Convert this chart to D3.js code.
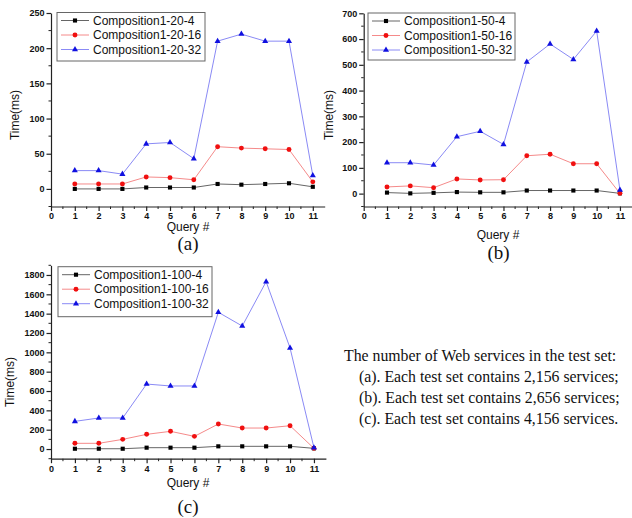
<!DOCTYPE html>
<meta charset="utf-8">
<script src="https://cdn.jsdelivr.net/npm/d3@7"></script>
<style>
body { margin: 0; background: #fff; }
svg text { fill: #111; }
</style>
<body>
<script>
// query numbers on x
var queries = [1, 2, 3, 4, 5, 6, 7, 8, 9, 10, 11];

// panel (a): 2,156 services
var a4  = [0, 0, 0, 2, 2, 2, 7, 6, 7, 8, 3];
var a16 = [7, 7, 7, 17, 16, 13, 60, 58, 57, 56, 10];
var a32 = [26, 26, 21, 64, 66, 43, 210, 220, 210, 210, 19];

// panel (b): 2,656 services
var b4  = [4, 1, 3, 6, 5, 5, 12, 12, 12, 12, 1];
var b16 = [26, 30, 23, 57, 53, 54, 147, 153, 116, 116, 1];
var b32 = [120, 120, 111, 221, 242, 191, 511, 581, 521, 631, 14];

// panel (c): 4,156 services
var c4  = [3, 3, 3, 14, 14, 14, 28, 28, 28, 28, 7];
var c16 = [59, 59, 100, 152, 183, 131, 259, 217, 217, 241, 7];
var c32 = [286, 321, 321, 672, 652, 652, 1414, 1272, 1731, 1045, 14];

var xTicks = [0, 1, 2, 3, 4, 5, 6, 7, 8, 9, 10, 11];
var aTicks = [0, 50, 100, 150, 200, 250];
var bTicks = [0, 100, 200, 300, 400, 500, 600, 700];
var cTicks = [0, 200, 400, 600, 800, 1000, 1200, 1400, 1600, 1800];

var noteLines = [
  "The number of Web services in the test set:",
  "(a). Each test set contains 2,156 services;",
  "(b). Each test set contains 2,656 services;",
  "(c). Each test set contains 4,156 services."
];

var svg = d3.select("body").append("svg")
    .attr("width", 632)
    .attr("height", 518)
    .style("font-family", "'Liberation Sans', Arial, sans-serif");

var styles = [
  {color: "#000", line: "#666", shape: d3.symbolSquare, size: 17},
  {color: "#f01010", line: "#f58a8a", shape: d3.symbolCircle, size: 19},
  {color: "#1010e0", line: "#8a8af5", shape: d3.symbolTriangle, size: 16}
];

function panel(cfg) {
  var x = d3.scaleLinear().domain([0, 11.5]).range(cfg.xr);
  var y = d3.scaleLinear().domain(cfg.yd).range(cfg.yr);
  var g = svg.append("g");

  // minor ticks
  var xMinor = d3.range(0.5, 11.5, 1);
  g.selectAll(".xm").data(xMinor).enter().append("line")
      .attr("x1", function(d) { return x(d); }).attr("x2", function(d) { return x(d); })
      .attr("y1", cfg.yr[0]).attr("y2", cfg.yr[0] + 2.5)
      .attr("stroke", "#222");
  var yMinor = d3.range(cfg.yd[0], cfg.yd[1] + 1, cfg.minor)
      .filter(function(d) { return cfg.yt.indexOf(d) < 0; });
  g.selectAll(".ym").data(yMinor).enter().append("line")
      .attr("y1", function(d) { return y(d); }).attr("y2", function(d) { return y(d); })
      .attr("x1", cfg.xr[0]).attr("x2", cfg.xr[0] - 2.5)
      .attr("stroke", "#222");

  var xAxis = g.append("g")
      .attr("transform", "translate(0," + cfg.yr[0] + ")")
      .call(d3.axisBottom(x).tickValues(xTicks).tickSize(4.5).tickPadding(2).tickSizeOuter(0));
  var yAxis = g.append("g")
      .attr("transform", "translate(" + cfg.xr[0] + ",0)")
      .call(d3.axisLeft(y).tickValues(cfg.yt).tickFormat(d3.format("d")).tickSize(4.5).tickPadding(2).tickSizeOuter(0));
  [xAxis, yAxis].forEach(function(ax) {
    ax.selectAll("text").style("font-size", "9px").style("font-weight", "bold")
      .style("font-family", "'Liberation Sans', Arial, sans-serif").attr("fill", "#222");
    ax.selectAll("path, line").attr("stroke", "#222").attr("stroke-width", 1.2);
  });

  var series = [cfg.s4, cfg.s16, cfg.s32];
  var line = d3.line()
      .x(function(d, i) { return x(queries[i]); })
      .y(function(d) { return y(d); });

  series.forEach(function(s, k) {
    g.append("path").datum(s)
        .attr("d", line)
        .attr("fill", "none")
        .attr("stroke", styles[k].line)
        .attr("stroke-width", 1);
  });
  series.forEach(function(s, k) {
    g.selectAll(".m" + k).data(s).enter().append("path")
        .attr("d", d3.symbol().type(styles[k].shape).size(styles[k].size))
        .attr("transform", function(d, i) { return "translate(" + x(queries[i]) + "," + y(d) + ")"; })
        .attr("fill", styles[k].color);
  });

  // legend
  var L = cfg.legend;
  g.append("rect")
      .attr("x", L.x).attr("y", L.y).attr("width", L.w).attr("height", L.h)
      .attr("fill", "#fff").attr("stroke", "#666").attr("stroke-width", 1);
  cfg.names.forEach(function(n, k) {
    var ry = L.y + 8 + k * 14.5;
    g.append("line")
        .attr("x1", L.x + 4).attr("x2", L.x + 32).attr("y1", ry).attr("y2", ry)
        .attr("stroke", styles[k].line);
    g.append("path")
        .attr("d", d3.symbol().type(styles[k].shape).size(styles[k].size))
        .attr("transform", "translate(" + (L.x + 18) + "," + ry + ")")
        .attr("fill", styles[k].color);
    g.append("text")
        .attr("x", L.x + 36).attr("y", ry)
        .attr("dominant-baseline", "central")
        .style("font-size", "12px")
        .text(n);
  });

  g.append("text")
      .attr("transform", "translate(" + cfg.ylab[0] + "," + cfg.ylab[1] + ") rotate(-90)")
      .attr("text-anchor", "middle")
      .attr("dominant-baseline", "central")
      .style("font-size", "12px")
      .text("Time(ms)");
  g.append("text")
      .attr("x", cfg.xlab[0]).attr("y", cfg.xlab[1])
      .attr("text-anchor", "middle")
      .attr("dominant-baseline", "central")
      .style("font-size", "12px")
      .text("Query #");
  g.append("text")
      .attr("x", cfg.cap[0]).attr("y", cfg.cap[1])
      .attr("text-anchor", "middle")
      .attr("dominant-baseline", "central")
      .style("font-family", "'Liberation Serif', 'Times New Roman', serif")
      .style("font-size", "19px")
      .text(cfg.caption);
}

panel({
  xr: [51, 324.7], yd: [-25, 250], yr: [206.5, 13], yt: aTicks, minor: 25,
  s4: a4, s16: a16, s32: a32,
  names: ["Composition1-20-4", "Composition1-20-16", "Composition1-20-32"],
  legend: {x: 57, y: 12.5, w: 148, h: 48.5},
  ylab: [15, 115], xlab: [188, 227], cap: [188, 243.5], caption: "(a)"
});

panel({
  xr: [363.7, 631.6], yd: [-50, 700], yr: [206.5, 13.3], yt: bTicks, minor: 50,
  s4: b4, s16: b16, s32: b32,
  names: ["Composition1-50-4", "Composition1-50-16", "Composition1-50-32"],
  legend: {x: 368, y: 13, w: 147, h: 47},
  ylab: [328.5, 115], xlab: [498, 235], cap: [498.5, 252], caption: "(b)"
});

panel({
  xr: [51, 325.9], yd: [-100, 1900], yr: [458.7, 265.3], yt: cTicks, minor: 100,
  s4: c4, s16: c16, s32: c32,
  names: ["Composition1-100-4", "Composition1-100-16", "Composition1-100-32"],
  legend: {x: 58, y: 266.7, w: 154, h: 50},
  ylab: [10, 382], xlab: [188, 483], cap: [188, 506.5], caption: "(c)"
});

// note text
svg.append("g").selectAll("text")
    .data(noteLines).enter().append("text")
    .attr("x", function(d, i) { return i === 0 ? 344 : 359; })
    .attr("y", function(d, i) { return 355 + i * 21.3; })
    .attr("dominant-baseline", "central")
    .style("font-family", "'Liberation Serif', 'Times New Roman', serif")
    .style("font-size", "15.8px")
    .text(function(d) { return d; });
</script>
</body>
</html>
